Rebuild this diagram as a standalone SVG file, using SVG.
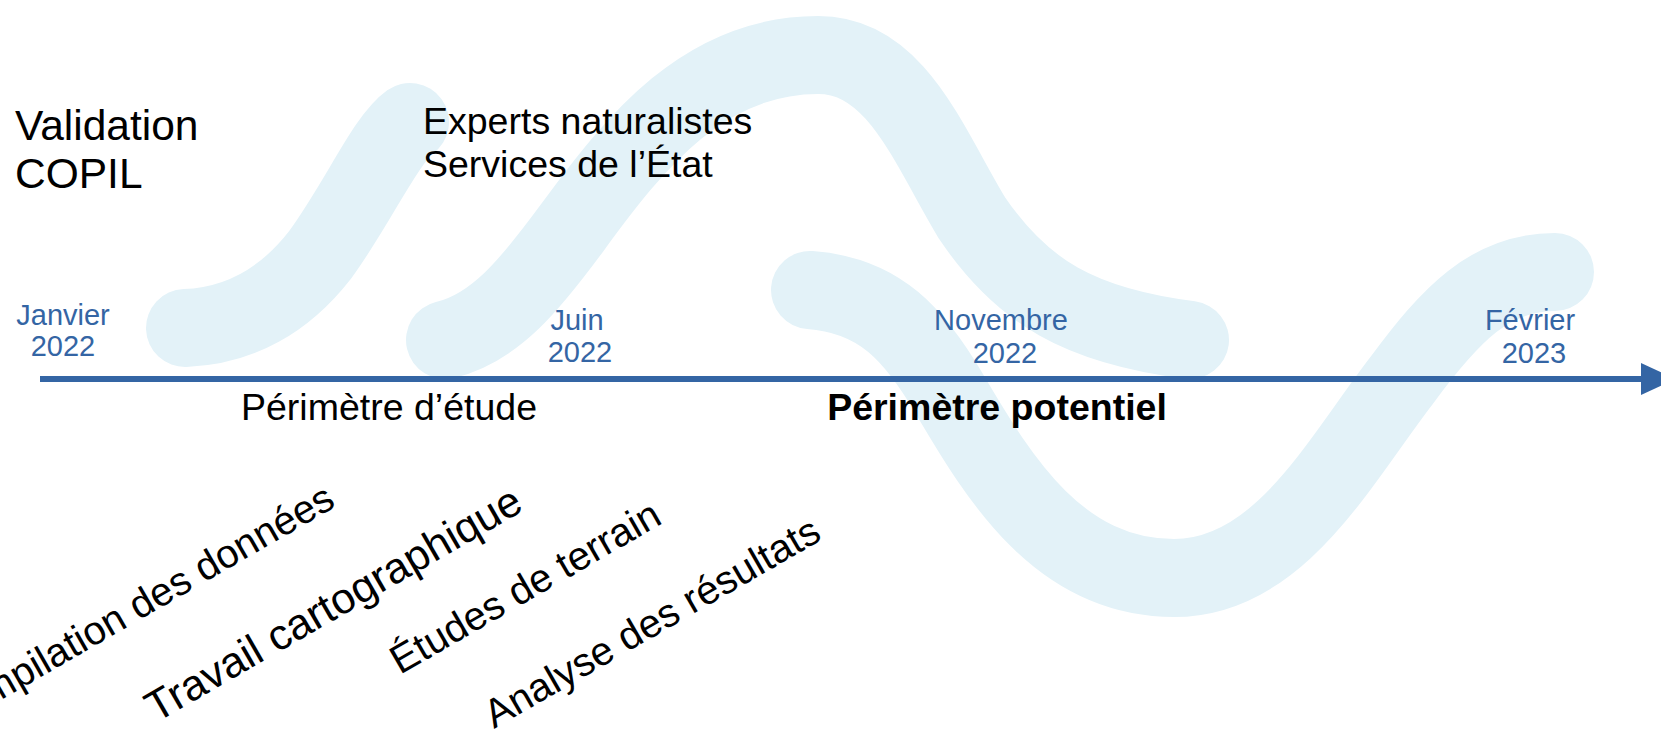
<svg xmlns="http://www.w3.org/2000/svg" width="1661" height="731" viewBox="0 0 1661 731">
<style>
.swirl{fill:none;stroke:#E3F2F8;stroke-width:78;stroke-linecap:round;stroke-linejoin:round}
.t{font-family:"Liberation Sans",Arial,sans-serif;fill:#000}
.date{font-family:"Liberation Sans",Arial,sans-serif;fill:#3465A4;font-size:29px;text-anchor:middle}
.rot{font-family:"Liberation Sans",Arial,sans-serif;fill:#000}
</style>
<rect width="1661" height="731" fill="#FFFFFF"/>
<g id="background">
<path class="swirl" d="M 185 328 C 240 326 285 300 320 255 C 360 200 385 140 410 122"/>
<path class="swirl" d="M 445 340 C 495 328 530 285 572 228 C 636 140 705 55 818 55 C 896 55 928 145 972 218 C 1022 292 1080 326 1190 340"/>
<path class="swirl" d="M 810 290 C 880 295 915 335 950 395 C 1000 480 1060 578 1174 578 C 1280 578 1340 460 1402 380 C 1450 315 1490 272 1555 272"/>
</g>
<g id="connectors">
<line x1="40" y1="379" x2="1644" y2="379" stroke="#3465A4" stroke-width="6"/>
<polygon points="1641,363 1676,379 1641,395" fill="#3465A4"/>
</g>
<g id="validation"><text class="t" font-size="42.5" x="15" y="140">Validation</text><text class="t" font-size="42.5" x="15" y="188">COPIL</text></g>
<g id="experts"><text class="t" font-size="37.5" x="423" y="134">Experts naturalistes</text><text class="t" font-size="37.5" x="423" y="177">Services de l’État</text></g>
<g id="date-janvier"><text class="date" x="63" y="325">Janvier</text><text class="date" x="63" y="356">2022</text></g>
<g id="date-juin"><text class="date" x="577" y="330">Juin</text><text class="date" x="580" y="362">2022</text></g>
<g id="date-novembre"><text class="date" x="1001" y="330">Novembre</text><text class="date" x="1005" y="363">2022</text></g>
<g id="date-fevrier"><text class="date" x="1530" y="330">Février</text><text class="date" x="1534" y="363">2023</text></g>
<g id="perimetre-etude"><text class="t" font-size="37.5" x="389" y="420" text-anchor="middle">Périmètre d’étude</text></g>
<g id="perimetre-potentiel"><text class="t" font-size="37.5" font-weight="bold" x="997" y="420" text-anchor="middle">Périmètre potentiel</text></g>
<g id="compilation"><text class="rot" font-size="40" text-anchor="end" transform="translate(337,506) rotate(-30)">Compilation des données</text></g>
<g id="travail"><text class="rot" font-size="43" transform="translate(156,723) rotate(-30)">Travail cartographique</text></g>
<g id="etudes"><text class="rot" font-size="40" transform="translate(400,675) rotate(-30)">Études de terrain</text></g>
<g id="analyse"><text class="rot" font-size="40" transform="translate(494,729) rotate(-30)">Analyse des résultats</text></g>
</svg>
